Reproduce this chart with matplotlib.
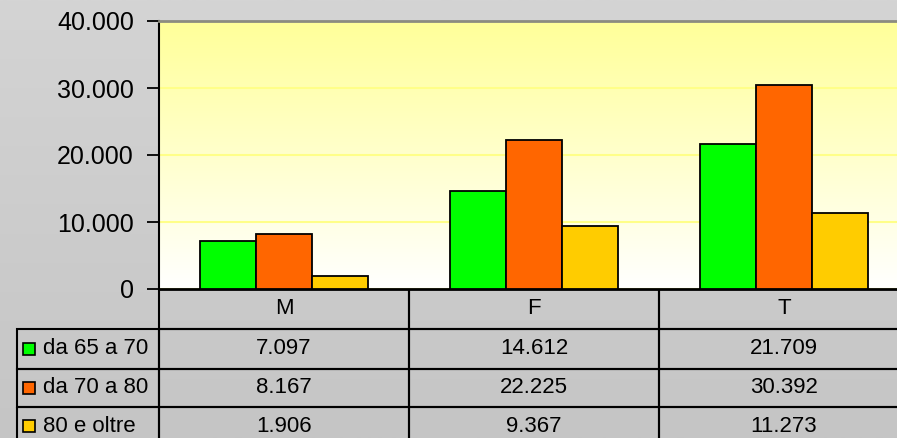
"""Bar chart with data table: anziani per fascia di eta e sesso"""

import numpy as np
import matplotlib
matplotlib.use('Agg')
import matplotlib.pyplot as plt
from matplotlib.colors import LinearSegmentedColormap
from matplotlib.patches import Rectangle

plt.rcParams['font.family'] = ['Liberation Sans', 'DejaVu Sans']

categories = ['M', 'F', 'T']
series_names = ['da 65 a 70', 'da 70 a 80', '80 e oltre']
da_65_a_70 = [7097, 14612, 21709]
da_70_a_80 = [8167, 22225, 30392]
oltre_80 = [1906, 9367, 11273]
y_ticks = [0, 10000, 20000, 30000, 40000]

series_values = [da_65_a_70, da_70_a_80, oltre_80]
colors = ['#00FF00', '#FF6600', '#FFCC00']

W, H = 897, 438


def fmt(v):
    """Italian thousands separator"""
    return '{:,}'.format(v).replace(',', '.')


fig = plt.figure(figsize=(W / 100, H / 100), dpi=100)

# gray background gradient
bg = fig.add_axes([0, 0, 1, 1], zorder=-10)
bg_cmap = LinearSegmentedColormap.from_list('bg', ['#C5C5C5', '#D4D4D4'])
bg.imshow(np.linspace(1, 0, 256).reshape(-1, 1), cmap=bg_cmap,
          aspect='auto', extent=[0, 1, 0, 1])
bg.set_axis_off()

# plot area: px x 159 -> 909, y 21 -> 289
ax = fig.add_axes([159 / W, (H - 289) / H, 750 / W, 268 / H])
ax.set_xlim(-0.5, len(categories) - 0.5)
ax.set_ylim(0, 40000)

grad = LinearSegmentedColormap.from_list('grad', ['#FFFFFF', '#FFFF99'])
ax.imshow(np.linspace(1, 0, 256).reshape(-1, 1), cmap=grad, aspect='auto',
          extent=[-0.5, len(categories) - 0.5, 0, 40000], zorder=0)

x = np.arange(len(categories))
width = 0.224
for i, (vals, col) in enumerate(zip(series_values, colors)):
    ax.bar(x + (i - 1) * width, vals, width, color=col, edgecolor='black',
           linewidth=1.3, zorder=3)

ax.set_yticks(y_ticks)
ax.set_yticklabels([fmt(v) for v in y_ticks], fontsize=18)
ax.tick_params(axis='y', direction='out', length=9, width=1.3, pad=9,
               colors='black')
ax.set_xticks([])
ax.yaxis.grid(True, color='#FFFF88', linewidth=1.5, zorder=1)
ax.set_axisbelow(True)
for side in ['right']:
    ax.spines[side].set_visible(False)
ax.spines['left'].set_linewidth(1.5)
ax.spines['bottom'].set_linewidth(2)
ax.spines['top'].set_color('#8C8C80')
ax.spines['top'].set_linewidth(2)

# data table: px x 17 -> 909, y 289 -> 446
row_edges = [289, 329, 369, 407, 446]
tab = fig.add_axes([17 / W, (H - 446) / H, (909 - 17) / W, (446 - 289) / H])
left = -0.5 - 142 / 250
tab.set_xlim(left, len(categories) - 0.5)
tab.set_ylim(446, 289)
tab.set_axis_off()

lw = 1.5
# header row
for j, cat in enumerate(categories):
    tab.add_patch(Rectangle((j - 0.5, row_edges[0]), 1,
                            row_edges[1] - row_edges[0], fill=False,
                            edgecolor='black', linewidth=lw))
    tab.text(j, (row_edges[0] + row_edges[1]) / 2, cat, ha='center',
             va='center', fontsize=16)
# data rows
for i, (name, vals, col) in enumerate(zip(series_names, series_values, colors)):
    y0, y1 = row_edges[i + 1], row_edges[i + 2]
    yc = (y0 + y1) / 2
    tab.add_patch(Rectangle((left, y0), -0.5 - left, y1 - y0, fill=False,
                            edgecolor='black', linewidth=lw, clip_on=False))
    tab.add_patch(Rectangle((left + 6 / 250, yc - 6), 12 / 250, 12,
                            facecolor=col, edgecolor='black', linewidth=1.2))
    tab.text(left + 26 / 250, yc, name, ha='left', va='center', fontsize=16)
    for j, v in enumerate(vals):
        tab.add_patch(Rectangle((j - 0.5, y0), 1, y1 - y0, fill=False,
                                edgecolor='black', linewidth=lw,
                                clip_on=False))
        tab.text(j, yc, fmt(v), ha='center', va='center', fontsize=16)

fig.savefig('out.png', dpi=100)
